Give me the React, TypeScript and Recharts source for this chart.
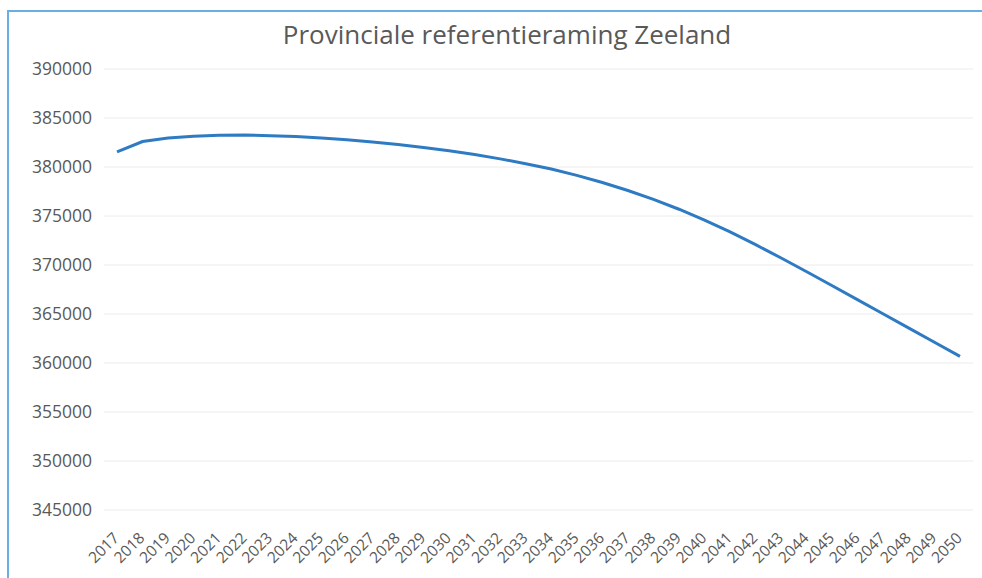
import { CartesianGrid, Line, LineChart, XAxis, YAxis } from "recharts";

const years = [
  "2017", "2018", "2019", "2020", "2021", "2022", "2023", "2024", "2025", "2026",
  "2027", "2028", "2029", "2030", "2031", "2032", "2033", "2034", "2035", "2036",
  "2037", "2038", "2039", "2040", "2041", "2042", "2043", "2044", "2045", "2046",
  "2047", "2048", "2049", "2050",
];

const population = [
  381550, 382600, 382950, 383150, 383240, 383260, 383200, 383100, 382960, 382780,
  382560, 382300, 382000, 381660, 381270, 380830, 380340, 379790, 379150, 378420,
  377600, 376690, 375690, 374590, 373370, 372070, 370710, 369310, 367880, 366440,
  365000, 363560, 362120, 360680,
];

const yTicks = [345000, 350000, 355000, 360000, 365000, 370000, 375000, 380000, 385000, 390000];

const data = years.map((year, i) => ({ year, value: population[i] }));

const textColor = "#595959";
const frameColor = "#6aaee6";
const font = "'Open Sans', sans-serif";

function YearTick({ x, y, payload }: { x?: number; y?: number; payload?: { value: string } }) {
  return (
    <text
      transform={`translate(${(x ?? 0) + 3}, ${(y ?? 0) + 21}) rotate(-45)`}
      textAnchor="end"
      fill={textColor}
      fontSize={15.5}
      fontFamily={font}
    >
      {payload?.value}
    </text>
  );
}

export default function App() {
  return (
    <div style={{ position: "absolute", left: 0, top: 0, width: 982, height: 578, background: "#fff", overflow: "hidden" }}>
      {/* chart frame: only the top and left edges are in view */}
      <div style={{ position: "absolute", left: 7, top: 10, width: 3000, height: 2, background: frameColor }} />
      <div style={{ position: "absolute", left: 7, top: 10, width: 2, height: 568, background: frameColor }} />
      <div
        style={{
          position: "absolute",
          left: 0,
          width: 1014,
          top: 16,
          textAlign: "center",
          fontFamily: font,
          fontSize: 26,
          color: textColor,
        }}
      >
        Provinciale referentieraming Zeeland
      </div>
      <div style={{ position: "absolute", left: 0, top: 0 }}>
        <LineChart width={982} height={578} data={data} margin={{ top: 69, right: 9, bottom: 0, left: 0 }}>
          <CartesianGrid vertical={false} stroke="#ececec" />
          <XAxis
            dataKey="year"
            interval={0}
            height={68}
            axisLine={false}
            tickLine={false}
            padding={{ left: 13, right: 13 }}
            tick={<YearTick />}
          />
          <YAxis
            width={104}
            domain={[345000, 390000]}
            ticks={yTicks}
            axisLine={false}
            tickLine={false}
            tickMargin={6}
            tick={{ fill: textColor, fontSize: 17.5, fontFamily: font }}
          />
          <Line
            type="linear"
            dataKey="value"
            stroke="#2e7bc4"
            strokeWidth={3}
            dot={false}
            isAnimationActive={false}
          />
        </LineChart>
      </div>
    </div>
  );
}
